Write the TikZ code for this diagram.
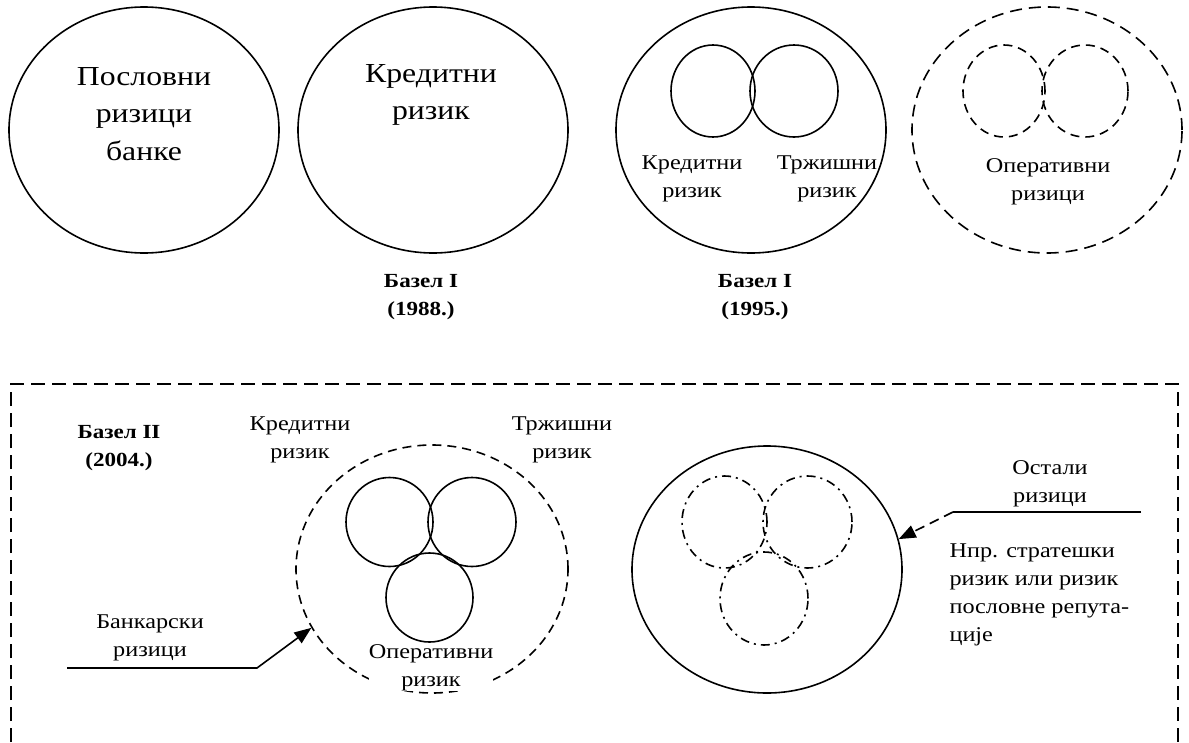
\documentclass[tikz,border=0pt]{standalone}
\usepackage{fontspec}
\setmainfont{Liberation Serif}[FakeStretch=1.154]
\usetikzlibrary{arrows.meta,shapes.geometric}

\begin{document}
\begin{tikzpicture}[x=1pt,y=-1pt,
  ring/.style={ellipse,draw,line width=1.6pt,inner sep=0pt,minimum width=270pt,minimum height=246pt},
  bubble/.style={ellipse,draw,line width=1.6pt,inner sep=0pt,minimum width=86pt,minimum height=92pt},
  dashedline/.style={dash pattern=on 12pt off 7pt},
  shortdash/.style={dash pattern=on 9pt off 6pt},
  dashdotline/.style={dash pattern=on 9pt off 5pt on 2pt off 5pt},
  big/.style={font=\fontsize{27.5}{37.5}\selectfont,align=center},
  lbl/.style={font=\fontsize{21}{28}\selectfont,align=center},
  era/.style={font=\fontsize{20}{28}\selectfont\bfseries,align=center},
  wire/.style={line width=1.6pt},
  tip/.style={-{Triangle[length=17pt,width=13pt]}},
  frame/.style={line width=1.6pt,dash pattern=on 14pt off 7pt}
]
\useasboundingbox (0,0) rectangle (1189,742);

% ---- top row: four stages ----
\node[ring] (all) at (144,130) {};
\node[big] (allt) at (144,114) {Пословни\\ризици\\банке};

\node[ring] (b1) at (433,130) {};
\node[big] (b1t) at (431,95) {Кредитни\\ризик};
\node[era] (b1e) at (421,297) {Базел I\\(1988.)};

\node[ring] (b2) at (751,130) {};
\node[bubble,minimum width=84pt] (b2c) at (713,91) {};
\node[bubble,minimum width=88pt] (b2m) at (794,91) {};
\node[lbl] (b2ct) at (692,179) {Кредитни\\ризик};
\node[lbl] (b2mt) at (827,179) {Тржишни\\ризик};
\node[era] (b2e) at (755,297) {Базел I\\(1995.)};

\node[ring,dashedline] (op) at (1047,130) {};
\node[bubble,shortdash,minimum width=82pt] (opl) at (1004,91) {};
\node[bubble,shortdash,minimum width=86pt] (opr) at (1085,91) {};
\node[lbl] (opt) at (1048,182) {Оперативни\\ризици};

% ---- Basel II frame ----
\draw[frame] (11,742) -- (11,384) -- (1178,384) -- (1178,742);
\node[era] (b3e) at (119,448) {Базел II\\(2004.)};
\node[lbl] (b3ct) at (300,440) {Кредитни\\ризик};
\node[lbl] (b3mt) at (562,440) {Тржишни\\ризик};

\node[ring,shortdash,minimum width=272pt,minimum height=248pt] (bank) at (432,569) {};
\node[bubble,minimum width=87pt,minimum height=89pt] (bk1) at (389.5,522) {};
\node[bubble,minimum width=88pt,minimum height=89pt] (bk2) at (472,522) {};
\node[bubble,minimum width=87pt,minimum height=89pt] (bk3) at (429.5,597.5) {};
\node[lbl,fill=white,inner sep=0pt] (bk3t) at (431,668) {Оперативни\\ризик};
\node[lbl] (bankt) at (150,638) {Банкарски\\ризици};
\coordinate (ba) at (67,668);
\coordinate (bb) at (257,668);
\draw[wire,tip] (ba) -- (bb) -- (bank.206.8);

\node[ring,minimum height=247pt] (rest) at (767,569.5) {};
\node[bubble,dashdotline,minimum width=85pt] (rs1) at (724.5,522) {};
\node[bubble,dashdotline,minimum width=89pt] (rs2) at (807.5,522) {};
\node[bubble,dashdotline,minimum width=88pt,minimum height=93pt] (rs3) at (764,598.5) {};
\node[lbl] (restt) at (1050,484) {Остали\\ризици};
\coordinate (ra) at (1141,512);
\coordinate (rb) at (953,512);
\draw[wire] (ra) -- (rb);
\draw[wire,tip,dash pattern=on 10pt off 6pt] (rb) -- (rest.13);
\node[lbl,align=left,anchor=west] (note) at (946,595) {Нпр. стратешки\\ризик или ризик\\пословне репута-\\ције};
\end{tikzpicture}
\end{document}
